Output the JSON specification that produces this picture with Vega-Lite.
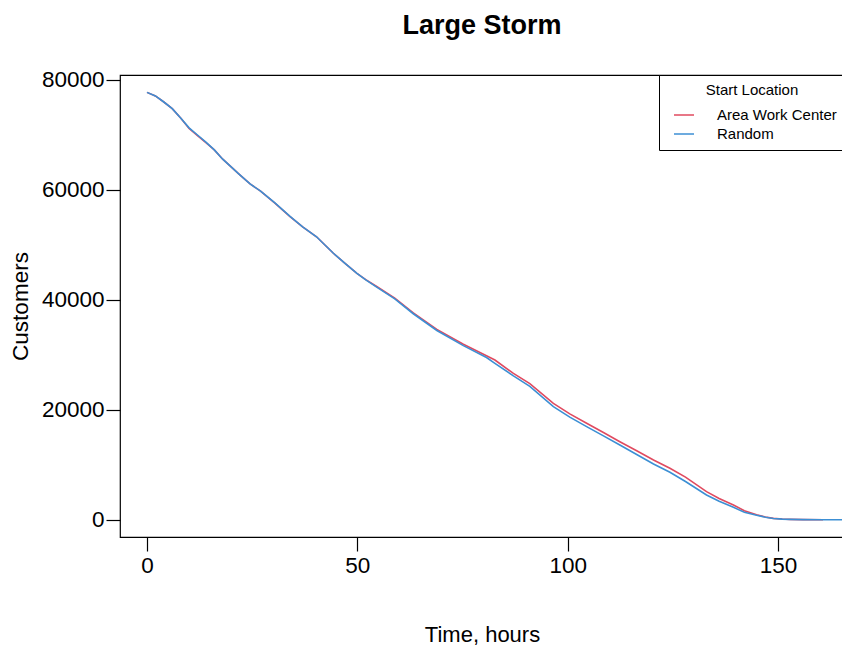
{
  "$schema": "https://vega.github.io/schema/vega-lite/v6.json",
  "autosize": {"type": "none"},
  "padding": {"left": 120, "top": 75, "right": 0, "bottom": 110},
  "width": 724,
  "height": 462,
  "background": "white",
  "title": {"text": "Large Storm", "font": "Liberation Sans", "fontSize": 27, "fontWeight": "bold", "color": "black", "anchor": "middle", "offset": 29},
  "config": {
    "view": {"stroke": "black", "strokeWidth": 1.2},
    "font": "Liberation Sans"
  },
  "data": {"values": [
    {"t": 0, "c": 77750, "s": "Area Work Center"},
    {"t": 2, "c": 77100, "s": "Area Work Center"},
    {"t": 4, "c": 76000, "s": "Area Work Center"},
    {"t": 6, "c": 74800, "s": "Area Work Center"},
    {"t": 8, "c": 73100, "s": "Area Work Center"},
    {"t": 10, "c": 71200, "s": "Area Work Center"},
    {"t": 12, "c": 69900, "s": "Area Work Center"},
    {"t": 14, "c": 68600, "s": "Area Work Center"},
    {"t": 16, "c": 67300, "s": "Area Work Center"},
    {"t": 18, "c": 65600, "s": "Area Work Center"},
    {"t": 20, "c": 64200, "s": "Area Work Center"},
    {"t": 22, "c": 62800, "s": "Area Work Center"},
    {"t": 24.5, "c": 61100, "s": "Area Work Center"},
    {"t": 27, "c": 59800, "s": "Area Work Center"},
    {"t": 30.4, "c": 57600, "s": "Area Work Center"},
    {"t": 34, "c": 55150, "s": "Area Work Center"},
    {"t": 37, "c": 53300, "s": "Area Work Center"},
    {"t": 40.3, "c": 51500, "s": "Area Work Center"},
    {"t": 44.3, "c": 48500, "s": "Area Work Center"},
    {"t": 47, "c": 46700, "s": "Area Work Center"},
    {"t": 49.9, "c": 44850, "s": "Area Work Center"},
    {"t": 52, "c": 43700, "s": "Area Work Center"},
    {"t": 54.6, "c": 42450, "s": "Area Work Center"},
    {"t": 58.9, "c": 40350, "s": "Area Work Center"},
    {"t": 63.3, "c": 37650, "s": "Area Work Center"},
    {"t": 68.9, "c": 34650, "s": "Area Work Center"},
    {"t": 75.2, "c": 31950, "s": "Area Work Center"},
    {"t": 80.7, "c": 29850, "s": "Area Work Center"},
    {"t": 82.7, "c": 29090, "s": "Area Work Center"},
    {"t": 87.1, "c": 26650, "s": "Area Work Center"},
    {"t": 91, "c": 24800, "s": "Area Work Center"},
    {"t": 96.6, "c": 21210, "s": "Area Work Center"},
    {"t": 100.5, "c": 19300, "s": "Area Work Center"},
    {"t": 104.5, "c": 17580, "s": "Area Work Center"},
    {"t": 108.5, "c": 15900, "s": "Area Work Center"},
    {"t": 112.4, "c": 14240, "s": "Area Work Center"},
    {"t": 116.4, "c": 12600, "s": "Area Work Center"},
    {"t": 120.4, "c": 10910, "s": "Area Work Center"},
    {"t": 124.3, "c": 9400, "s": "Area Work Center"},
    {"t": 128, "c": 7800, "s": "Area Work Center"},
    {"t": 133, "c": 5150, "s": "Area Work Center"},
    {"t": 136, "c": 3900, "s": "Area Work Center"},
    {"t": 139.4, "c": 2730, "s": "Area Work Center"},
    {"t": 142, "c": 1700, "s": "Area Work Center"},
    {"t": 144.9, "c": 950, "s": "Area Work Center"},
    {"t": 147, "c": 550, "s": "Area Work Center"},
    {"t": 148.9, "c": 300, "s": "Area Work Center"},
    {"t": 151, "c": 170, "s": "Area Work Center"},
    {"t": 152.8, "c": 120, "s": "Area Work Center"},
    {"t": 156, "c": 70, "s": "Area Work Center"},
    {"t": 160.7, "c": 50, "s": "Area Work Center"},
    {"t": 0, "c": 77750, "s": "Random"},
    {"t": 2, "c": 77100, "s": "Random"},
    {"t": 4, "c": 76000, "s": "Random"},
    {"t": 6, "c": 74800, "s": "Random"},
    {"t": 8, "c": 73100, "s": "Random"},
    {"t": 10, "c": 71300, "s": "Random"},
    {"t": 12, "c": 70000, "s": "Random"},
    {"t": 14, "c": 68700, "s": "Random"},
    {"t": 16, "c": 67300, "s": "Random"},
    {"t": 18, "c": 65600, "s": "Random"},
    {"t": 20, "c": 64200, "s": "Random"},
    {"t": 22, "c": 62800, "s": "Random"},
    {"t": 24.5, "c": 61100, "s": "Random"},
    {"t": 27, "c": 59800, "s": "Random"},
    {"t": 30.4, "c": 57650, "s": "Random"},
    {"t": 34, "c": 55200, "s": "Random"},
    {"t": 37, "c": 53300, "s": "Random"},
    {"t": 40.3, "c": 51500, "s": "Random"},
    {"t": 44.3, "c": 48500, "s": "Random"},
    {"t": 47, "c": 46700, "s": "Random"},
    {"t": 49.9, "c": 44850, "s": "Random"},
    {"t": 52, "c": 43650, "s": "Random"},
    {"t": 54.6, "c": 42350, "s": "Random"},
    {"t": 58.9, "c": 40200, "s": "Random"},
    {"t": 63.3, "c": 37500, "s": "Random"},
    {"t": 68.9, "c": 34450, "s": "Random"},
    {"t": 75.2, "c": 31700, "s": "Random"},
    {"t": 80.7, "c": 29550, "s": "Random"},
    {"t": 82.7, "c": 28490, "s": "Random"},
    {"t": 87.1, "c": 26200, "s": "Random"},
    {"t": 91, "c": 24300, "s": "Random"},
    {"t": 96.6, "c": 20600, "s": "Random"},
    {"t": 100.5, "c": 18700, "s": "Random"},
    {"t": 104.5, "c": 16970, "s": "Random"},
    {"t": 108.5, "c": 15300, "s": "Random"},
    {"t": 112.4, "c": 13640, "s": "Random"},
    {"t": 116.4, "c": 11900, "s": "Random"},
    {"t": 120.4, "c": 10180, "s": "Random"},
    {"t": 124.3, "c": 8670, "s": "Random"},
    {"t": 128, "c": 7000, "s": "Random"},
    {"t": 133, "c": 4550, "s": "Random"},
    {"t": 136, "c": 3400, "s": "Random"},
    {"t": 139.4, "c": 2300, "s": "Random"},
    {"t": 142, "c": 1400, "s": "Random"},
    {"t": 144.9, "c": 850, "s": "Random"},
    {"t": 147, "c": 500, "s": "Random"},
    {"t": 148.9, "c": 280, "s": "Random"},
    {"t": 151, "c": 160, "s": "Random"},
    {"t": 152.8, "c": 110, "s": "Random"},
    {"t": 156, "c": 70, "s": "Random"},
    {"t": 160.7, "c": 50, "s": "Random"},
    {"t": 166, "c": 50, "s": "Random"},
    {"t": 170, "c": 50, "s": "Random"}
  ]},
  "mark": {"type": "line", "strokeWidth": 1.6, "clip": true},
  "encoding": {
    "x": {
      "field": "t", "type": "quantitative",
      "scale": {"domain": [-6.418, 165.68], "nice": false, "zero": false},
      "axis": {
        "title": "Time, hours", "values": [0, 50, 100, 150], "grid": false, "domain": false,
        "tickColor": "black", "tickSize": 14, "tickWidth": 1.2,
        "labelFontSize": 22.5, "labelColor": "black", "labelPadding": 3, "labelFont": "Liberation Sans",
        "titleFontSize": 22, "titleFontWeight": "normal", "titleColor": "black", "titlePadding": 48, "titleFont": "Liberation Sans"
      }
    },
    "y": {
      "field": "c", "type": "quantitative",
      "scale": {"domain": [-3091, 80909], "nice": false, "zero": false},
      "axis": {
        "title": "Customers", "values": [0, 20000, 40000, 60000, 80000], "format": "d", "grid": false, "domain": false,
        "tickColor": "black", "tickSize": 14, "tickWidth": 1.2,
        "labelFontSize": 22.5, "labelColor": "black", "labelPadding": 2, "labelFont": "Liberation Sans",
        "titleFontSize": 22.5, "titleFontWeight": "normal", "titleColor": "black", "titlePadding": 9, "titleFont": "Liberation Sans"
      }
    },
    "color": {
      "field": "s", "type": "nominal",
      "scale": {"domain": ["Area Work Center", "Random"], "range": ["#E04A5F", "#3C8FD4"]},
      "legend": {
        "title": "Start Location", "orient": "none", "legendX": 539, "legendY": 0,
        "strokeColor": "black", "fillColor": "white", "padding": 8, "cornerRadius": 0,
        "titleFontSize": 15, "titleFontWeight": "normal", "titleColor": "black", "titleFont": "Liberation Sans", "titleAnchor": "middle", "titlePadding": 6,
        "labelFontSize": 15, "labelColor": "black", "labelFont": "Liberation Sans", "labelOffset": 22,
        "symbolType": "stroke", "symbolSize": 400, "symbolStrokeWidth": 1.5, "symbolOffset": 6, "rowPadding": 0
      }
    }
  }
}
